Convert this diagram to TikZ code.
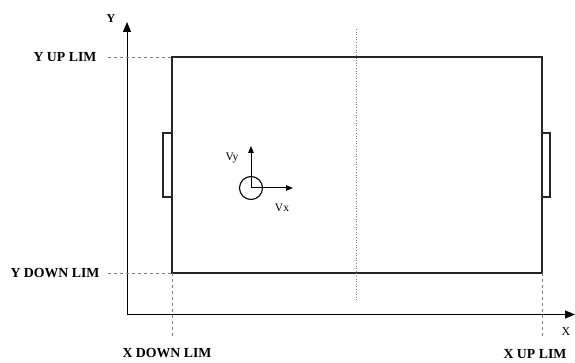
\documentclass[tikz,border=0pt]{standalone}
\usepackage{fontspec}
\setmainfont{Liberation Serif}
\usetikzlibrary{arrows.meta}
\tikzset{
  limlabel/.style={font=\fontsize{13.8}{16}\selectfont\bfseries},
  limline/.style={draw=gray, line width=0.8pt, dash pattern=on 3pt off 3pt},
  axis/.style={line width=1pt, -{Triangle[length=10pt,width=8pt]}},
  fieldline/.style={draw=black!85, line width=1.1pt},
  velo/.style={line width=1pt, -{Triangle[length=7pt,width=5.5pt]}}
}
\begin{document}
\begin{tikzpicture}[x=1pt,y=-1pt]
\useasboundingbox (0,0) rectangle (575,363);

% axes
\coordinate (origin) at (127,314.5);
\coordinate (ytip) at (127,22);
\coordinate (xtip) at (575,314.5);
\draw[axis] (origin) -- (ytip);
\draw[axis] (origin) -- (xtip);
\node[font=\fontsize{12}{14}\selectfont\bfseries] (ylabel) at (111,19) {Y};
\node[font=\fontsize{12}{14}\selectfont] (xlabel) at (566,332) {X};

% field and goals
\coordinate (fieldNW) at (172,57);
\coordinate (fieldSE) at (542,273);
\coordinate (fieldSW) at (172,273);
\coordinate (fieldNE) at (542,57);
\draw[fieldline] (fieldNW) rectangle (fieldSE);
\draw[fieldline] (163,133) rectangle (172,197);
\draw[fieldline] (542,133) rectangle (550,197);
\coordinate (midtop) at (356.5,29);
\coordinate (midbot) at (356.5,300);
\draw[gray, line width=0.8pt, dash pattern=on 1pt off 1.6pt] (midtop) -- (midbot);

% limits
\node[limlabel] (yup) at (65,57) {Y UP LIM};
\node[limlabel] (ydown) at (55,273) {Y DOWN LIM};
\node[limlabel] (xdown) at (167,353) {X DOWN LIM};
\node[limlabel] (xup) at (535,354) {X UP LIM};
\coordinate (yupstart) at (108,57);
\coordinate (ydownstart) at (108,273);
\coordinate (xdownend) at (172,336);
\coordinate (xupend) at (542,336);
\draw[limline] (yupstart) -- (fieldNW);
\draw[limline] (ydownstart) -- (fieldSW);
\draw[limline] (fieldSW) -- (xdownend);
\draw[limline] (fieldSE) -- (xupend);

% ball and velocity
\node[draw, circle, line width=1.1pt, minimum size=23pt, inner sep=0pt] (ball) at (251,188) {};
\coordinate (vytip) at (251,146);
\coordinate (vxtip) at (293,188);
\draw[velo] (ball.center) -- (vytip);
\draw[velo] (ball.center) -- (vxtip);
\node[font=\fontsize{11.5}{13}\selectfont] (vy) at (232,158) {Vy};
\node[font=\fontsize{11.5}{13}\selectfont] (vx) at (282,208) {Vx};
\end{tikzpicture}
\end{document}
